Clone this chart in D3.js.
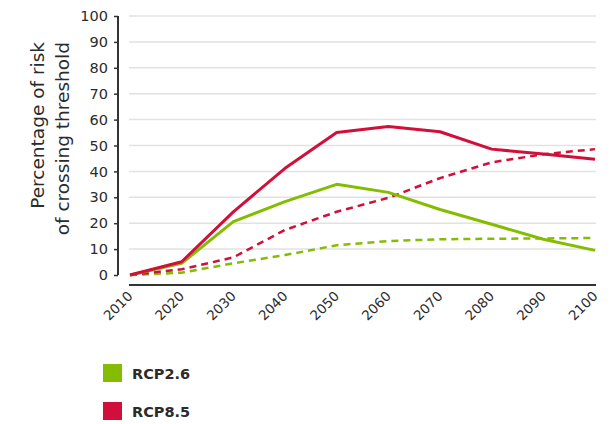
<!DOCTYPE html>
<html><head><meta charset="utf-8">
<script src="https://cdn.jsdelivr.net/npm/d3@7"></script>
<style>body{margin:0;background:#fff}svg{display:block}text{font-family:"DejaVu Sans",sans-serif;fill:#2b2b2b}</style>
</head><body><svg id="c" width="611" height="424"></svg>
<script>
const years = [2010,2020,2030,2040,2050,2060,2070,2080,2090,2100];
const rcp26Solid = [0,4.5,20.6,28.3,35,31.9,25.3,19.6,13.8,9.5];
const rcp26Dashed = [0,0.9,4.5,7.7,11.5,13.1,13.8,14,14.1,14.3];
const rcp85Solid = [0,5.1,24.4,41.2,55,57.3,55.3,48.6,46.7,44.7];
const rcp85Dashed = [0,2.2,6.8,17.4,24.4,29.8,37.4,43.5,46.6,48.6];
const yTicks = [0,10,20,30,40,50,60,70,80,90,100];
const legendLabels = ["RCP2.6","RCP8.5"];
const green = "#84bd00", red = "#d0103a";

const svg = d3.select("#c");
const x = d3.scaleLinear().domain([2010,2100]).range([130,595]);
const y = d3.scaleLinear().domain([0,100]).range([275,16]);

// gridlines
svg.append("g").selectAll("line").data(yTicks.filter(d=>d>0)).join("line")
  .attr("x1",129).attr("x2",596).attr("y1",d=>y(d)).attr("y2",d=>y(d))
  .attr("stroke","#e2e2e2").attr("stroke-width",1.5);

// y axis
const ya = svg.append("g").attr("transform","translate(118,0)")
  .call(d3.axisLeft(y).tickValues(yTicks).tickSize(4).tickPadding(6));
ya.select(".domain").attr("stroke","#333").attr("stroke-width",2).attr("d","M0,"+y(100)+"V"+y(0));
ya.selectAll(".tick line").attr("stroke","#333").attr("stroke-width",1.5);
ya.selectAll("text").style("font-size","14.5px").attr("fill","#2b2b2b");

// x axis
const xa = svg.append("g").attr("transform","translate(0,285)")
  .call(d3.axisBottom(x).tickValues(years).tickFormat(d3.format("d")).tickSize(0).tickPadding(0));
xa.select(".domain").attr("stroke","#333").attr("stroke-width",2).attr("d","M129,0H596");
xa.selectAll("text").style("font-size","13.5px").attr("text-anchor","end")
  .attr("dy",null).attr("y",null)
  .attr("transform","translate(3,12) rotate(-45)");

// y title
const t = svg.append("text").attr("transform","translate(44,42) rotate(-90)")
  .attr("text-anchor","end").style("font-size","18.5px");
t.append("tspan").attr("x",0).attr("dy",0).text("Percentage of risk");
t.append("tspan").attr("x",0).attr("dy",25).text("of crossing threshold");

const line = d3.line().x((d,i)=>x(years[i])).y(d=>y(d));
const series = [
  {v:rcp26Dashed,c:green,dash:"7,5",w:2.5},
  {v:rcp85Dashed,c:red,dash:"7,5",w:2.5},
  {v:rcp26Solid,c:green,dash:null,w:3},
  {v:rcp85Solid,c:red,dash:null,w:3}
];
svg.append("g").selectAll("path").data(series).join("path")
  .attr("d",d=>line(d.v)).attr("fill","none").attr("stroke",d=>d.c)
  .attr("stroke-width",d=>d.w).attr("stroke-dasharray",d=>d.dash)
  .attr("stroke-linejoin","round");

// legend
const lg = svg.append("g").selectAll("g").data(legendLabels).join("g")
  .attr("transform",(d,i)=>`translate(103,${364+i*38})`);
lg.append("rect").attr("width",19).attr("height",18).attr("fill",(d,i)=>i?red:green);
lg.append("text").attr("x",29).attr("y",15).style("font-size","14.5px").style("font-weight","bold").text(d=>d);
</script></body></html>
